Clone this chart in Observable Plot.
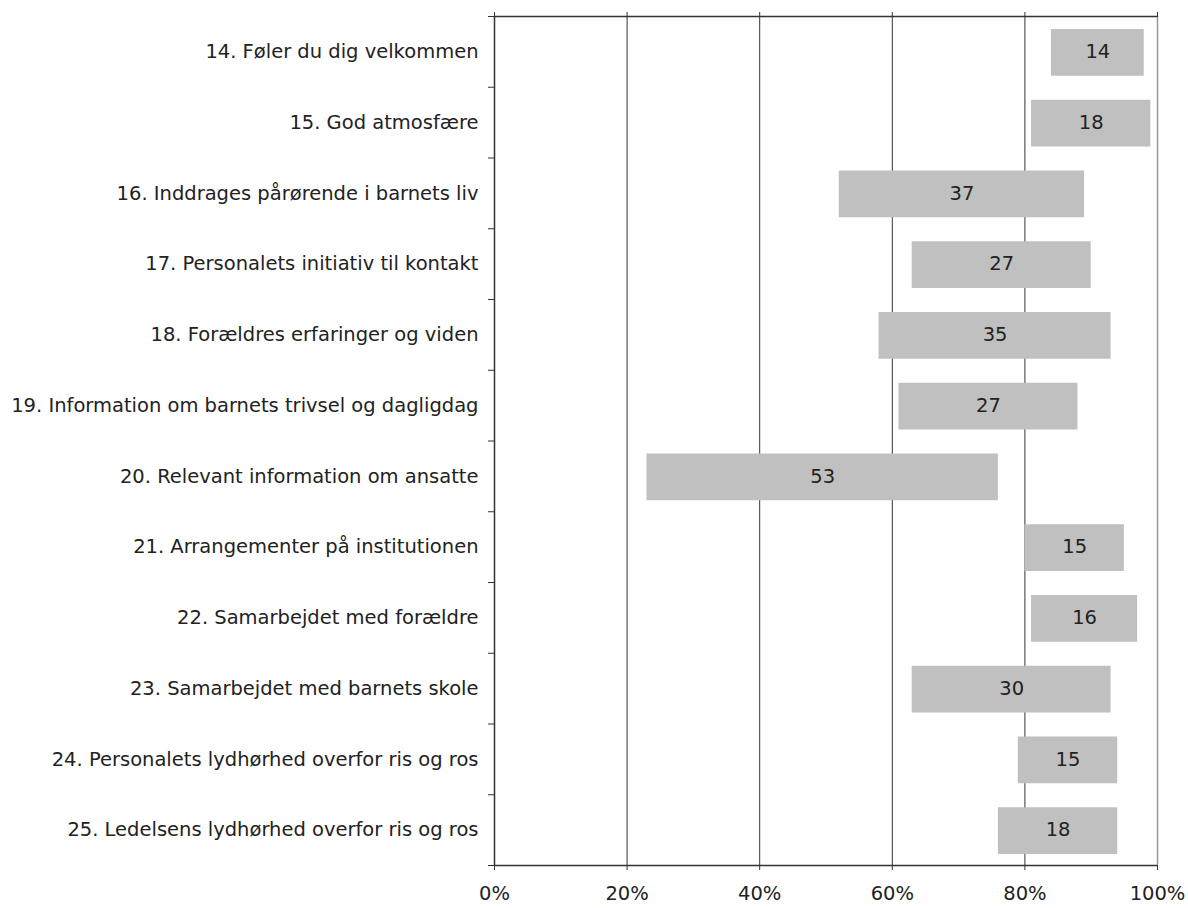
<!DOCTYPE html>
<html>
<head>
<meta charset="utf-8">
<script src="https://cdn.jsdelivr.net/npm/d3@7"></script>
<script src="https://cdn.jsdelivr.net/npm/@observablehq/plot@0.6"></script>
<style>
  html, body { margin: 0; padding: 0; background: #fff; }
  #chart svg { display: block; }
</style>
</head>
<body>
<div id="chart"></div>
<script>
const questions = [
  "14. Føler du dig velkommen",
  "15. God atmosfære",
  "16. Inddrages pårørende i barnets liv",
  "17. Personalets initiativ til kontakt",
  "18. Forældres erfaringer og viden",
  "19. Information om barnets trivsel og dagligdag",
  "20. Relevant information om ansatte",
  "21. Arrangementer på institutionen",
  "22. Samarbejdet med forældre",
  "23. Samarbejdet med barnets skole",
  "24. Personalets lydhørhed overfor ris og ros",
  "25. Ledelsens lydhørhed overfor ris og ros"
];
const lowValues  = [84, 81, 52, 63, 58, 61, 23, 80, 81, 63, 79, 76];
const highValues = [98, 99, 89, 90, 93, 88, 76, 95, 97, 93, 94, 94];
const spanLabels = [14, 18, 37, 27, 35, 27, 53, 15, 16, 30, 15, 18];
const xTicks = [0, 20, 40, 60, 80, 100];
const gridTicks = [20, 40, 60, 80];

const rows = questions.map((q, i) => ({
  q, i, lo: lowValues[i], hi: highValues[i], span: spanLabels[i]
}));

const font = "'DejaVu Sans', 'Noto Sans', sans-serif";
const dark = "#333";
const fs = 19.5;

const chart = Plot.plot({
  width: 1188,
  height: 908,
  marginLeft: 494,
  marginRight: 31,
  marginTop: 16,
  marginBottom: 43,
  style: { fontFamily: font, fontSize: fs + "px", color: "#222", background: "#fff" },
  x: { domain: [0, 100], label: null },
  y: { domain: [0, questions.length], reverse: true, label: null },
  marks: [
    Plot.ruleX(gridTicks, { stroke: dark, strokeWidth: 1 }),
    Plot.rectX(rows, {
      x1: "lo", x2: "hi", y1: "i", y2: d => d.i + 1,
      insetTop: 13, insetBottom: 11, fill: "#c0c0c0"
    }),
    Plot.ruleX([100], { stroke: "#999", strokeWidth: 1.5 }),
    Plot.ruleY([0, questions.length], { stroke: dark, strokeWidth: 1.5 }),
    Plot.ruleX([0], { stroke: dark, strokeWidth: 1.5 }),
    Plot.text(rows, {
      x: d => (d.lo + d.hi) / 2, y: d => d.i + 0.5, text: d => String(d.span),
      fill: "#222", fontSize: fs
    }),
    Plot.text(rows, {
      x: 0, y: d => d.i + 0.5, text: "q", textAnchor: "end", dx: -16,
      fill: "#222", fontSize: fs
    }),
    Plot.axisX({ anchor: "bottom", ticks: xTicks, tickSize: 5, tickPadding: 16,
      tickFormat: d => d + "%", fontSize: fs, stroke: dark, fill: "#222", label: null }),
    Plot.axisX({ anchor: "top", ticks: xTicks, tickSize: 5, tickFormat: () => "", stroke: dark, label: null }),
    Plot.axisY({ anchor: "left", ticks: d3.range(0, questions.length + 1), tickSize: 6,
      tickFormat: () => "", stroke: dark, label: null })
  ]
});
document.getElementById("chart").appendChild(chart);
</script>
</body>
</html>
